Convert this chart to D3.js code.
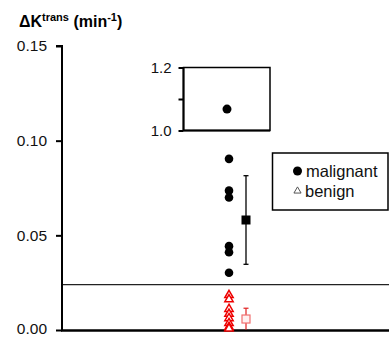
<!DOCTYPE html>
<html>
<head>
<meta charset="utf-8">
<script src="https://cdn.jsdelivr.net/npm/d3@7"></script>
<style>
  body { margin: 0; background: #fff; }
  svg { display: block; font-family: Arial, "Liberation Sans", sans-serif; }
</style>
</head>
<body>
<div id="chart"></div>
<script>
// values
const yTicks = [0, 0.05, 0.10, 0.15];
const insetTicks = [1.0, 1.1, 1.2];
const insetLabels = ["1.0", "", "1.2"];
const malignant = [0.0904, 0.0736, 0.0700, 0.0443, 0.0411, 0.0302];
const malignantHigh = [1.068];
const malignantMean = [0.0581];
const malignantSd = [0.0234];
const benign = [0.0176, 0.0154, 0.0103, 0.0077, 0.0054, 0.0028, 0.0008, 0.0];
const benignMean = [0.0058];
const benignSd = [0.0057];
const threshold = [0.024];
const legendItems = ["malignant", "benign"];

const W = 389, H = 337;
const svg = d3.select("#chart").append("svg")
    .attr("width", W)
    .attr("height", H);

const y = d3.scaleLinear().domain([0, 0.15]).range([330, 46]);
const yIn = d3.scaleLinear().domain([1.0, 1.2]).range([130.5, 67.5]);
const x = d3.scalePoint().domain(["points", "summary"]).range([229, 246]);
const xEnd = 389, xStart = 62;

// title
const title = svg.append("text")
    .attr("x", 19).attr("y", 27)
    .style("font-weight", "bold").style("font-size", "16px");
title.append("tspan").text("ΔK");
title.append("tspan").attr("dy", -6).style("font-size", "11px").text("trans");
title.append("tspan").attr("dy", 6).text(" (min");
title.append("tspan").attr("dy", -6).style("font-size", "11px").text("-1");
title.append("tspan").attr("dy", 6).text(")");

// threshold line
svg.append("line")
    .attr("x1", xStart).attr("x2", xEnd)
    .attr("y1", y(threshold[0])).attr("y2", y(threshold[0]))
    .attr("stroke", "#222").attr("stroke-width", 1.3);

// Y axis
svg.append("g")
    .attr("transform", "translate(" + xStart + ",0)")
    .call(d3.axisLeft(y).tickValues(yTicks).tickFormat(d3.format(".2f")).tickSize(6).tickPadding(9))
    .call(g => g.select(".domain").attr("stroke-width", 2).attr("d", "M-6," + y(0.15) + "H0V" + (y(0) + 1)))
    .call(g => g.selectAll(".tick line").attr("stroke-width", 2))
    .call(g => g.selectAll("text").style("font-size", "15.5px").attr("fill", "#111"))
    .call(g => g.selectAll(".tick text").filter(d => d === 0).attr("dy", "0.25em"));

// X axis line
svg.append("line")
    .attr("x1", xStart - 1).attr("x2", xEnd)
    .attr("y1", y(0) + 0.5).attr("y2", y(0) + 0.5)
    .attr("stroke", "#000").attr("stroke-width", 2.5);

// inset for the high value
const inset = svg.append("g");
inset.append("rect")
    .attr("x", 183.5).attr("y", yIn(1.2))
    .attr("width", 270 - 183.5).attr("height", yIn(1.0) - yIn(1.2))
    .attr("fill", "#fff").attr("stroke", "#000").attr("stroke-width", 1.5);
inset.append("line")
    .attr("x1", 183.5).attr("x2", 270)
    .attr("y1", yIn(1.0)).attr("y2", yIn(1.0))
    .attr("stroke", "#000").attr("stroke-width", 2);
inset.append("g")
    .attr("transform", "translate(183.5,0)")
    .call(d3.axisLeft(yIn).tickValues(insetTicks).tickFormat((d, i) => insetLabels[i]).tickSize(5).tickPadding(7))
    .call(g => g.select(".domain").attr("stroke-width", 2).attr("d", "M0," + yIn(1.2) + "V" + yIn(1.0)))
    .call(g => g.selectAll(".tick line").attr("stroke-width", 2))
    .call(g => g.selectAll("text").style("font-size", "15px").attr("fill", "#111"));
inset.selectAll("circle.high")
    .data(malignantHigh)
    .enter().append("circle")
    .attr("class", "high")
    .attr("cx", x("points") - 2)
    .attr("cy", d => yIn(d))
    .attr("r", 4.5)
    .attr("fill", "#000");

// malignant points
svg.selectAll("circle.mal")
    .data(malignant)
    .enter().append("circle")
    .attr("class", "mal")
    .attr("cx", x("points"))
    .attr("cy", d => y(d))
    .attr("r", 4.3)
    .attr("fill", "#000");

// malignant mean +- sd
const malBar = svg.append("g");
malBar.append("line")
    .attr("x1", x("summary")).attr("x2", x("summary"))
    .attr("y1", y(malignantMean[0] + malignantSd[0]))
    .attr("y2", y(malignantMean[0] - malignantSd[0]))
    .attr("stroke", "#000").attr("stroke-width", 1.3);
[malignantMean[0] + malignantSd[0], malignantMean[0] - malignantSd[0]].forEach(v => {
    malBar.append("line")
        .attr("x1", x("summary") - 2.5).attr("x2", x("summary") + 2.5)
        .attr("y1", y(v)).attr("y2", y(v))
        .attr("stroke", "#000").attr("stroke-width", 1.3);
});
malBar.append("rect")
    .attr("x", x("summary") - 4.5).attr("y", y(malignantMean[0]) - 4.5)
    .attr("width", 9).attr("height", 9)
    .attr("fill", "#000");

// benign points
const tri = d3.symbol().type(d3.symbolTriangle).size(30);
svg.selectAll("path.ben")
    .data(benign)
    .enter().append("path")
    .attr("class", "ben")
    .attr("d", tri)
    .attr("transform", d => "translate(" + x("points") + "," + (y(d) - 1.5) + ")")
    .attr("fill", "#fff")
    .attr("stroke", "#ee0000")
    .attr("stroke-width", 1.5);

// benign mean +- sd
const benBar = svg.append("g");
benBar.append("line")
    .attr("x1", x("summary")).attr("x2", x("summary"))
    .attr("y1", y(benignMean[0] + benignSd[0]))
    .attr("y2", y(Math.max(0, benignMean[0] - benignSd[0])))
    .attr("stroke", "#e02020").attr("stroke-width", 1.2);
benBar.append("line")
    .attr("x1", x("summary") - 2.5).attr("x2", x("summary") + 2.5)
    .attr("y1", y(benignMean[0] + benignSd[0])).attr("y2", y(benignMean[0] + benignSd[0]))
    .attr("stroke", "#e02020").attr("stroke-width", 1.2);
benBar.append("rect")
    .attr("x", x("summary") - 4).attr("y", y(benignMean[0]) - 4)
    .attr("width", 8).attr("height", 8)
    .attr("fill", "#fff0f0")
    .attr("stroke", "#f07070").attr("stroke-width", 1.2);

// legend
const legend = svg.append("g");
legend.append("rect")
    .attr("x", 272.5).attr("y", 153)
    .attr("width", 388 - 272.5).attr("height", 57)
    .attr("fill", "#fff").attr("stroke", "#000").attr("stroke-width", 1.5);
legend.append("circle")
    .attr("cx", 297.5).attr("cy", 171).attr("r", 4.5).attr("fill", "#000");
legend.append("path")
    .attr("d", d3.symbol().type(d3.symbolTriangle).size(22))
    .attr("transform", "translate(297.5,191)")
    .attr("fill", "#fff").attr("stroke", "#555").attr("stroke-width", 1);
legend.selectAll("text")
    .data(legendItems)
    .enter().append("text")
    .attr("x", (d, i) => i === 0 ? 306 : 305)
    .attr("y", (d, i) => 177 + i * 20)
    .style("font-size", "16.5px")
    .attr("fill", "#111")
    .text(d => d);
</script>
</body>
</html>
